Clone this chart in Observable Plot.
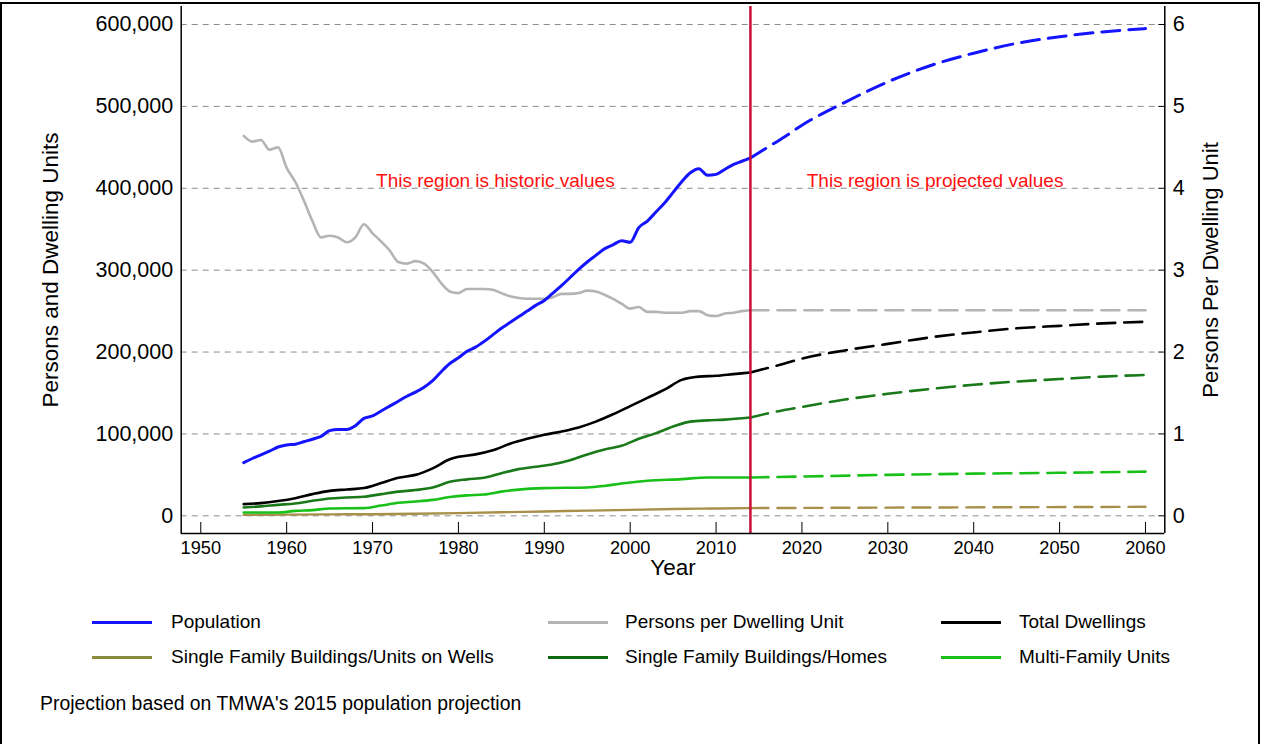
<!DOCTYPE html>
<html>
<head>
<meta charset="utf-8">
<script src="https://cdn.jsdelivr.net/npm/d3@7"></script>
<script src="https://cdn.jsdelivr.net/npm/@observablehq/plot@0.6"></script>
<style>
  body { margin: 0; background: #fff; font-family: "Liberation Sans", Arial, sans-serif; }
  #wrap { position: relative; width: 1261px; height: 744px; overflow: hidden; background: #fff; }
  #border { position: absolute; left: 0; top: 2px; width: 1260px; height: 800px; border: 2.5px solid #000; box-sizing: border-box; pointer-events: none; }
  #chart { position: absolute; left: 0; top: 0; }
  .lg { position: absolute; font-size: 19px; color: #000; white-space: nowrap; line-height: 1; }
  .sw { position: absolute; height: 3px; }
  #caption { position: absolute; left: 40px; top: 694px; font-size: 19.4px; white-space: nowrap; line-height: 1; }
</style>
</head>
<body>
<div id="wrap">
  <div id="chart"></div>
  <div id="legend"></div>
  <div id="caption">Projection based on TMWA's 2015 population projection</div>
  <div id="border"></div>
</div>
<script>
// ---------- data ----------
const seriesNames = ["Population", "Persons per Dwelling Unit", "Total Dwellings",
  "Single Family Buildings/Units on Wells", "Single Family Buildings/Homes", "Multi-Family Units"];
const seriesColors = ["#1414ff", "#b4b4b4", "#000000", "#a8904a", "#1a7a1a", "#18c018"];
const legendColors = ["#1414ff", "#b4b4b4", "#000000", "#8a8a3c", "#0f6a0f", "#18c018"];

const xTicks = [1950, 1960, 1970, 1980, 1990, 2000, 2010, 2020, 2030, 2040, 2050, 2060];
const yTicks = [0, 100000, 200000, 300000, 400000, 500000, 600000];
const ppduTicks = [0, 1, 2, 3, 4, 5, 6];
const ppduFactor = 100000;
const projectionStart = 2014;

// Population
const popHistYears = [1955,1956,1957,1958,1959,1960,1961,1962,1963,1964,1965,1966,1967,1968,1969,1970,1971,1972,1973,1974,1975,1976,1977,1978,1979,1980,1981,1982,1983,1984,1985,1986,1987,1988,1989,1990,1991,1992,1993,1994,1995,1996,1997,1998,1999,2000,2001,2002,2003,2004,2005,2006,2007,2008,2009,2010,2011,2012,2013,2014];
const popHist = [65000,70000,74500,79000,84000,86500,87500,90500,93500,97000,104000,105500,105500,110000,119000,122000,128000,134000,140000,146000,151000,157000,165000,176000,186000,193000,201000,206000,213000,221000,229000,236000,243000,250000,257000,263000,272000,281000,291000,301000,310000,318000,326000,331000,336000,334000,352000,360000,371000,382000,395000,408000,419000,424000,416000,417000,423000,429000,433000,437000];
const popProjYears = [2014,2016,2018,2020,2025,2030,2035,2040,2045,2050,2055,2060];
const popProj = [437000,450000,463000,477000,505000,530000,550000,565000,577000,585000,591000,595000];

// Persons per dwelling unit (right axis)
const ppduHistYears = popHistYears;
const ppduHist = [4.64,4.57,4.59,4.47,4.50,4.25,4.08,3.85,3.60,3.40,3.42,3.40,3.34,3.40,3.56,3.45,3.35,3.24,3.10,3.08,3.11,3.08,2.98,2.84,2.74,2.72,2.77,2.77,2.77,2.76,2.72,2.68,2.66,2.65,2.65,2.65,2.67,2.71,2.71,2.72,2.75,2.74,2.70,2.65,2.59,2.53,2.55,2.49,2.49,2.48,2.48,2.48,2.50,2.50,2.45,2.44,2.47,2.48,2.50,2.51];
const ppduProjYears = [2014,2020,2030,2040,2050,2060];
const ppduProj = [2.51,2.51,2.51,2.51,2.51,2.51];

// Total dwellings
const totHistYears = [1955,1957,1959,1961,1963,1965,1967,1969,1971,1973,1975,1977,1979,1980,1982,1984,1986,1988,1990,1992,1994,1996,1998,2000,2002,2004,2006,2008,2010,2012,2014];
const totHist = [14300,15500,18000,21500,26500,30500,32200,34000,40000,46500,50000,58000,69000,72000,75000,80000,88000,94000,99000,103000,108000,115000,124000,134000,144000,154000,166000,170000,171000,173000,175000];
const totProjYears = [2014,2016,2018,2020,2025,2030,2035,2040,2045,2050,2055,2060];
const totProj = [175000,180500,186000,192000,202000,210000,218000,224000,229000,232000,235000,237000];

// Single family units on wells
const wellHistYears = [1955,1960,1965,1970,1975,1980,1985,1990,1995,2000,2005,2010,2014];
const wellHist = [1200,1400,1700,2000,2600,3300,4300,5300,6300,7300,8300,9000,9400];
const wellProjYears = [2014,2030,2045,2060];
const wellProj = [9400,10000,10500,11000];

// Single family homes
const sfHistYears = [1955,1957,1959,1961,1963,1965,1967,1969,1971,1973,1975,1977,1979,1981,1983,1985,1987,1989,1991,1993,1995,1997,1999,2001,2003,2005,2007,2009,2011,2014];
const sfHist = [10200,11500,13400,15000,18300,21200,22400,23300,26500,29500,31500,34500,41500,44500,46500,52000,57000,60000,63000,68000,75000,81000,85500,94000,101000,109000,115000,116500,117500,120000];
const sfProjYears = [2014,2016,2020,2025,2030,2035,2040,2045,2050,2055,2060];
const sfProj = [120000,125000,133000,142000,149000,155000,160000,164000,167000,170000,172000];

// Multi-family units
const mfHistYears = [1955,1959,1961,1963,1965,1969,1971,1973,1975,1977,1979,1981,1983,1985,1987,1990,1995,1997,1999,2002,2006,2009,2014];
const mfHist = [4000,4000,6000,7000,8900,9400,12500,16000,17500,19500,23000,25000,26000,29500,32000,33800,34600,36500,39500,42800,44800,46800,46800];
const mfProjYears = [2014,2020,2030,2040,2050,2060];
const mfProj = [46800,48000,50000,51500,52500,54000];

const annotationTexts = ["This region is historic values", "This region is projected values"];
const annotationYears = [1984.3, 2035.5];
const annotationValues = [409000, 409000];

// ---------- build table ----------
const rows = [];
function add(series, phase, years, values, k = 1) {
  years.forEach((yr, i) => rows.push({series, phase, year: yr, value: values[i] * k}));
}
add(seriesNames[0], "hist", popHistYears, popHist); add(seriesNames[0], "proj", popProjYears, popProj);
add(seriesNames[1], "hist", ppduHistYears, ppduHist, ppduFactor); add(seriesNames[1], "proj", ppduProjYears, ppduProj, ppduFactor);
add(seriesNames[2], "hist", totHistYears, totHist); add(seriesNames[2], "proj", totProjYears, totProj);
add(seriesNames[3], "hist", wellHistYears, wellHist); add(seriesNames[3], "proj", wellProjYears, wellProj);
add(seriesNames[4], "hist", sfHistYears, sfHist); add(seriesNames[4], "proj", sfProjYears, sfProj);
add(seriesNames[5], "hist", mfHistYears, mfHist); add(seriesNames[5], "proj", mfProjYears, mfProj);

const annotations = annotationTexts.map((t, i) => ({text: t, year: annotationYears[i], value: annotationValues[i]}));

const xDomain = [1947.72, 2062.25];
const yDomain = [-21600, 622000];
const drawOrder = [3, 5, 4, 2, 1, 0];
const widths = {0: 3, 1: 2.6, 2: 2.6, 3: 2.4, 4: 2.6, 5: 2.6};

const lineMarks = [];
for (const i of drawOrder) {
  const name = seriesNames[i];
  lineMarks.push(Plot.line(rows.filter(d => d.series === name && d.phase === "hist"),
    {x: "year", y: "value", stroke: seriesColors[i], strokeWidth: widths[i], curve: "monotone-x"}));
  lineMarks.push(Plot.line(rows.filter(d => d.series === name && d.phase === "proj"),
    {x: "year", y: "value", stroke: seriesColors[i], strokeWidth: widths[i], curve: "monotone-x", strokeDasharray: "18,9"}));
}

const chart = Plot.plot({
  width: 1261, height: 590,
  marginLeft: 180.7, marginRight: 96.7, marginTop: 6, marginBottom: 57,
  x: {domain: xDomain, label: null},
  y: {domain: yDomain, label: null},
  style: {fontFamily: "'Liberation Sans', Arial, sans-serif", fontSize: "21px", background: "transparent", color: "#000"},
  marks: [
    Plot.gridY(yTicks, {stroke: "#8c8c8c", strokeOpacity: 1, strokeWidth: 1, strokeDasharray: "6,5", insetRight: 7}),
    ...lineMarks,
    Plot.ruleX([projectionStart], {stroke: "#c8103a", strokeWidth: 2.5}),
    Plot.ruleX([xDomain[0], xDomain[1]], {stroke: "#000", strokeWidth: 1.5}),
    Plot.ruleY([yDomain[0]], {stroke: "#000", strokeWidth: 1.5}),
    Plot.axisY(yTicks, {anchor: "left", tickSize: 0, tickPadding: 8, fontSize: 21.5, tickFormat: d => d3.format(",")(d), label: null}),
    Plot.axisY(ppduTicks.map(v => v * ppduFactor), {anchor: "right", tickSize: -7, tickPadding: 15, fontSize: 21.5, tickFormat: d => d / ppduFactor, label: null}),
    Plot.axisX(xTicks, {anchor: "bottom", tickSize: -11, tickPadding: 19, fontSize: 18.2, tickFormat: d => String(d), label: null}),
    Plot.text(annotations, {x: "year", y: "value", text: "text", fill: "#ff1010", fontSize: 19, textAnchor: "middle"}),
    Plot.text(["Persons and Dwelling Units"], {frameAnchor: "left", dx: -130, rotate: -90, fontSize: 22.5, textAnchor: "middle"}),
    Plot.text(["Persons Per Dwelling Unit"], {frameAnchor: "right", dx: 46, rotate: -90, fontSize: 22, textAnchor: "middle"}),
    Plot.text(["Year"], {frameAnchor: "bottom", dy: 41, fontSize: 22.5, textAnchor: "middle"})
  ]
});
document.getElementById("chart").appendChild(chart);

// ---------- legend (HTML, below the SVG) ----------
const legend = document.getElementById("legend");
const colX = [[92, 171], [548, 625], [941, 1019]];
const rowY = [622, 657];
const legendOrder = [0, 1, 2, 3, 4, 5];
legendOrder.forEach((si, k) => {
  const r = Math.floor(k / 3), c = k % 3;
  const sw = document.createElement("div");
  sw.className = "sw";
  sw.style.left = colX[c][0] + "px"; sw.style.width = "60px";
  sw.style.top = (rowY[r] - 1.5) + "px"; sw.style.background = legendColors[si];
  legend.appendChild(sw);
  const t = document.createElement("div");
  t.className = "lg"; t.textContent = seriesNames[si];
  t.style.left = colX[c][1] + "px"; t.style.top = (rowY[r] - 10) + "px";
  legend.appendChild(t);
});
</script>
</body>
</html>
